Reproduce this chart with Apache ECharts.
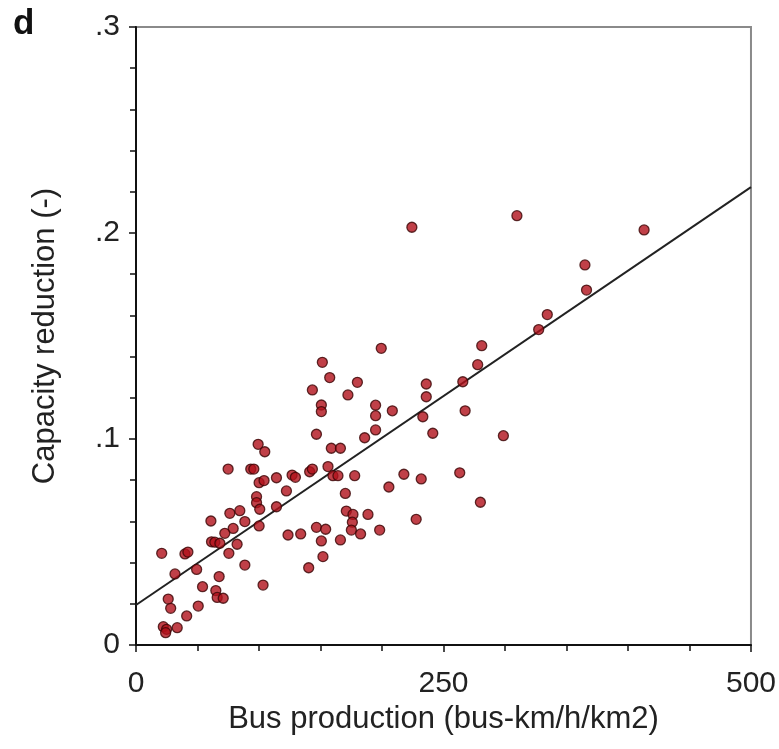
<!DOCTYPE html>
<html>
<head>
<meta charset="utf-8">
<script src="https://cdn.jsdelivr.net/npm/echarts@6/dist/echarts.min.js"></script>
<style>
  html, body { margin: 0; padding: 0; background: #fff; }
  #chart { width: 779px; height: 749px; }
</style>
</head>
<body>
<div id="chart"></div>
<script>
// bus production (bus-km/h/km2) for each observation
const busProduction = [
  150.7, 150.7, 146.7, 99.3, 104.7, 74.9, 93.3, 95.8, 141.2, 143.4,
  156.1, 114.2, 126.9, 129.6, 100.1, 104.1, 122.3, 98.0, 98.0, 100.6,
  114.2, 76.3, 84.4, 88.5, 60.9, 100.1, 79.0, 72.2, 123.6, 133.9,
  146.7, 154.2, 61.4, 64.1, 68.2, 82.2, 75.5, 20.9, 39.8, 42.2,
  150.7, 152.0, 88.5, 49.3, 31.7, 140.4, 67.6, 103.3, 54.1, 64.9,
  66.0, 70.9, 26.2, 28.2, 50.6, 41.2, 22.2, 24.9, 24.1, 33.5,
  199.4, 281.1, 151.5, 277.8, 157.5, 180.0, 236.0, 265.7, 143.4, 172.3,
  236.0, 194.8, 194.8, 208.4, 233.2, 267.6, 194.8, 185.9, 241.3, 298.7,
  158.8, 166.2, 160.1, 164.2, 177.8, 217.8, 231.9, 263.2, 205.6, 170.2,
  280.0, 171.0, 176.4, 188.6, 227.8, 175.9, 175.1, 182.6, 198.1, 166.2,
  224.3, 309.7, 413.1, 365.0, 366.3, 334.4, 327.4
];

// capacity reduction (-) for the same observations
const capacityReduction = [
  0.1165, 0.1133, 0.1023, 0.0974, 0.0938, 0.0854, 0.0854, 0.0854, 0.0841, 0.0854,
  0.0866, 0.0812, 0.0825, 0.0814, 0.0788, 0.0798, 0.0748, 0.0720, 0.0691, 0.0659,
  0.0671, 0.0639, 0.0652, 0.0599, 0.0602, 0.0578, 0.0566, 0.0542, 0.0534, 0.0539,
  0.0571, 0.0562, 0.0501, 0.0499, 0.0494, 0.0489, 0.0445, 0.0445, 0.0442, 0.0451,
  0.0505, 0.0429, 0.0388, 0.0367, 0.0345, 0.0375, 0.0332, 0.0291, 0.0283, 0.0264,
  0.0231, 0.0227, 0.0223, 0.0178, 0.0189, 0.0141, 0.0089, 0.0076, 0.0060, 0.0084,
  0.1440, 0.1453, 0.1372, 0.1361, 0.1298, 0.1275, 0.1267, 0.1278, 0.1238, 0.1214,
  0.1205, 0.1164, 0.1113, 0.1137, 0.1108, 0.1137, 0.1044, 0.1006, 0.1028, 0.1016,
  0.0955, 0.0955, 0.0822, 0.0822, 0.0822, 0.0829, 0.0806, 0.0836, 0.0767, 0.0736,
  0.0693, 0.0650, 0.0634, 0.0634, 0.0610, 0.0596, 0.0558, 0.0539, 0.0558, 0.0510,
  0.2028, 0.2084, 0.2015, 0.1845, 0.1723, 0.1604, 0.1531
];

// fitted line end points
const fitX = [0, 500];
const fitY = [0.0194, 0.2223];

const font = 'Liberation Sans, Arial, sans-serif';

const points = busProduction.map((x, i) => [x, capacityReduction[i]]);
const fitLine = fitX.map((x, i) => [x, fitY[i]]);

const chart = echarts.init(document.getElementById('chart'));
const option = {
  backgroundColor: '#fff',
  animation: false,
  title: {
    text: 'd',
    left: 8,
    top: 2,
    textStyle: { fontSize: 35, fontWeight: 'bold', color: '#111', fontFamily: font }
  },
  grid: {
    left: 136, right: 27, top: 27, bottom: 104,
    show: true,
    borderColor: '#8a8a8a',
    borderWidth: 2,
    backgroundColor: 'transparent'
  },
  xAxis: {
    type: 'value',
    min: 0, max: 500, interval: 250,
    name: 'Bus production (bus-km/h/km2)',
    nameLocation: 'middle',
    nameGap: 49,
    nameTextStyle: { fontSize: 31, color: '#222', fontFamily: font },
    axisLine: { show: true, onZero: false, lineStyle: { color: '#111', width: 2 } },
    axisTick: { show: true, length: 7, lineStyle: { color: '#111', width: 1.5 } },
    minorTick: { show: true, splitNumber: 5, length: 6, lineStyle: { color: '#111', width: 1.5 } },
    splitLine: { show: false },
    axisLabel: { fontSize: 30, color: '#222', margin: 24, fontFamily: font }
  },
  yAxis: {
    type: 'value',
    min: 0, max: 0.3, interval: 0.1,
    name: 'Capacity reduction (-)',
    nameLocation: 'middle',
    nameGap: 75,
    nameTextStyle: { fontSize: 31, color: '#222', fontFamily: font },
    axisLine: { show: true, onZero: false, lineStyle: { color: '#111', width: 2 } },
    axisTick: { show: true, length: 7, lineStyle: { color: '#111', width: 1.5 } },
    minorTick: { show: true, splitNumber: 5, length: 6, lineStyle: { color: '#111', width: 1.5 } },
    splitLine: { show: false },
    axisLabel: {
      fontSize: 30, color: '#222', margin: 16, fontFamily: font,
      formatter: v => (v === 0 ? '0' : v.toFixed(1).replace(/^0/, ''))
    }
  },
  series: [
    {
      type: 'line',
      data: fitLine,
      symbol: 'none',
      lineStyle: { color: '#222', width: 2 },
      z: 2
    },
    {
      type: 'scatter',
      data: points,
      symbol: 'circle',
      symbolSize: 10,
      itemStyle: { color: '#b0101a', borderColor: '#3a0505', borderWidth: 1.3 },
      z: 3
    }
  ]
};
chart.setOption(option);
</script>
</body>
</html>
